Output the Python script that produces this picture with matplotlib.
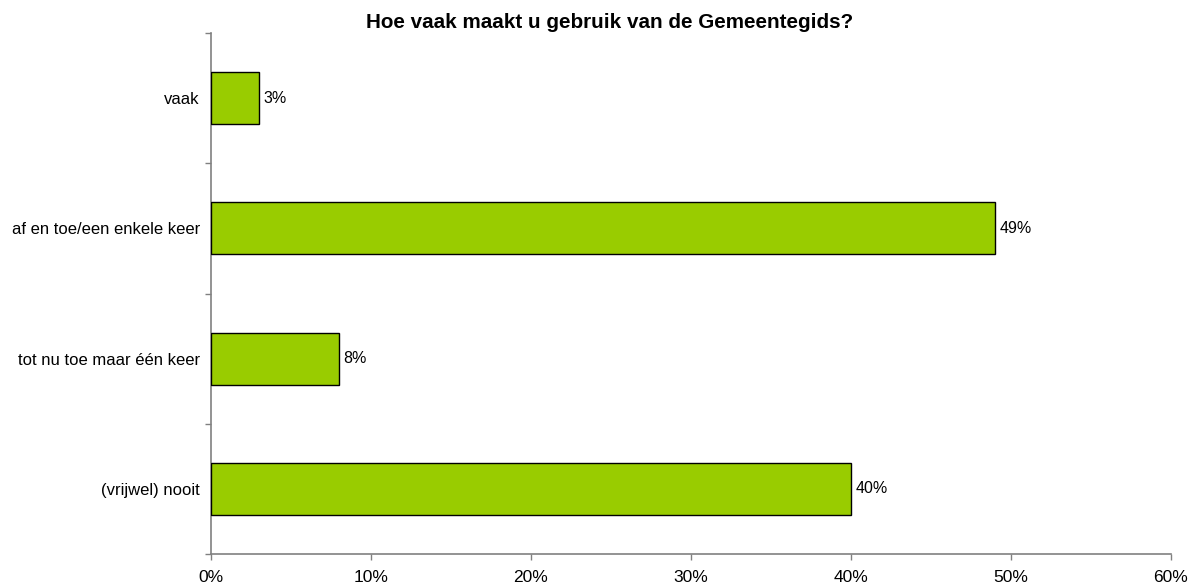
import matplotlib
matplotlib.use("Agg")
import matplotlib.pyplot as plt
from matplotlib.ticker import FixedLocator, PercentFormatter

categories = ["(vrijwel) nooit", "tot nu toe maar één keer", "af en toe/een enkele keer", "vaak"]
values = [40, 8, 49, 3]
xticks = [0, 10, 20, 30, 40, 50, 60]
title = "Hoe vaak maakt u gebruik van de Gemeentegids?"

plt.rcParams['font.family'] = ['Liberation Sans', 'DejaVu Sans']

W, H = 1199, 588
fig = plt.figure(figsize=(W / 100, H / 100), dpi=100)
ax = fig.add_axes([211 / W, 1 - 554 / H, (1171 - 211) / W, (554 - 33) / H])

y = list(range(len(categories)))
ax.barh(y, values, height=0.4, color="#99CC00", edgecolor="black", linewidth=1.0, zorder=3)
for yi, v in zip(y, values):
    ax.annotate(f"{v}%", (v, yi), xytext=(3, 0), textcoords="offset points",
                va="center", ha="left", fontsize=11.5)

ax.set_xlim(0, 60)
ax.set_ylim(-0.5, len(categories) - 0.5)
ax.set_xticks(xticks)
ax.xaxis.set_major_formatter(PercentFormatter(decimals=0))
ax.set_yticks(y)
ax.set_yticklabels(categories)
ax.yaxis.set_minor_locator(FixedLocator([i - 0.5 for i in range(len(categories) + 1)]))
ax.tick_params(axis="y", which="major", length=0, pad=8, labelsize=12)
ax.tick_params(axis="y", which="minor", length=4.3, width=1, color="#808080", direction="out")
ax.tick_params(axis="x", which="major", length=4.3, width=1, color="#808080", direction="out",
               pad=7.5, labelsize=12.5)

for s in ["top", "right"]:
    ax.spines[s].set_visible(False)
for s in ["left", "bottom"]:
    ax.spines[s].set_color("#808080")
    ax.spines[s].set_linewidth(1.2)

fig.text(610 / W, 1 - 28.5 / H, title, ha="center", va="baseline", fontsize=14.9, fontweight="bold")

fig.savefig("out.png", dpi=100)
